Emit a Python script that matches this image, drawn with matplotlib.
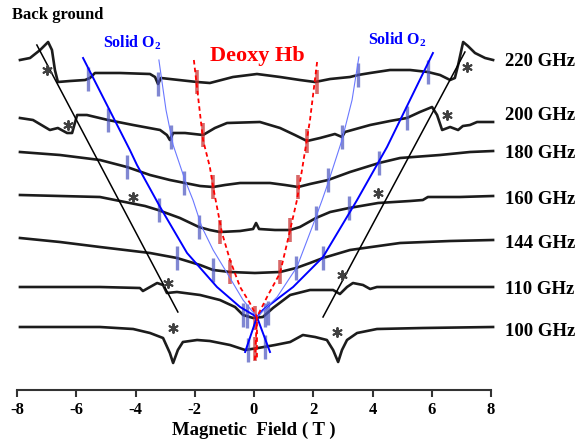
import numpy as np
import matplotlib
matplotlib.use('Agg')
import matplotlib.pyplot as plt

plt.rcParams['font.family'] = ['Liberation Serif', 'DejaVu Serif']
plt.rcParams['font.weight'] = 'bold'
plt.rcParams['mathtext.fontset'] = 'custom'
plt.rcParams['mathtext.rm'] = 'Liberation Serif:bold'
plt.rcParams['mathtext.bf'] = 'Liberation Serif:bold'

# ---------------- data ----------------
freq_labels = ['220 GHz', '200 GHz', '180 GHz', '160 GHz', '144 GHz', '110 GHz', '100 GHz']
offsets = [328, 277, 236, 191, 148, 100, 60]
label_offsets = [328, 275, 237, 190, 147, 100, 58]

field_220 = [-7.90, -7.56, -7.22, -6.95, -6.82, -6.72, -6.62, -6.21, -5.70, -5.54,
             -5.37, -4.52, -3.51, -3.34, -3.24, -3.14, -2.84, -1.92, -1.49, -0.71,
             0.10, 0.88, 1.55, 2.06, 2.57, 3.24, 3.51, 3.92, 4.59, 5.27,
             5.87, 6.28, 6.62, 6.78, 6.89, 7.06, 7.22, 7.46, 7.80, 8.07]
sig_220 = [2, 4, 12, 20, 12, -8, -20, -19, -18, -16,
           -11, -11, -12, -15, -22, -16, -17, -20, -21, -15,
           -12, -15, -18, -20, -17, -15, -13, -11, -8, -8,
           -10, -13, -18, -16, -3, 20, 16, 9, 4, 2]

field_200 = [-7.90, -7.46, -6.89, -6.62, -6.31, -6.14, -5.97, -5.64, -4.93, -4.08,
             -3.17, -2.94, -2.84, -2.73, -2.33, -1.72, -1.32, -0.91, 0.20, 0.88,
             1.38, 1.79, 2.23, 2.73, 2.97, 3.07, 3.92, 4.59, 5.16, 5.60,
             6.01, 6.18, 6.35, 6.62, 6.89, 7.05, 7.29, 7.53, 8.07]
sig_200 = [-5, -7, -17, -15, -20, -20, -2, -2, -7, -12,
           -17, -22, -27, -20, -20, -22, -15, -10, -9, -15,
           -22, -28, -25, -21, -24, -19, -12, -8, -5, 1,
           6, -2, -17, -14, -17, -13, -12, -9, -9]

field_180 = [-7.90, -6.55, -5.20, -4.29, -3.51, -2.84, -2.33, -1.82, -1.38, -0.98, -0.47,
             0.54, 1.05, 1.49, 1.89, 2.50, 3.24, 4.22, 4.93, 6.28, 7.29, 8.07]
sig_180 = [2, -1, -6, -13, -21, -26, -29, -32, -33, -31, -29,
           -29, -31, -33, -30, -26, -18, -9, -4, -1, 2, 3]

field_160 = [-7.90, -6.55, -5.20, -4.19, -3.68, -3.24, -2.50, -1.86, -1.49, -1.15, -0.47, -0.03, 0.07,
             0.17, 0.71, 1.22, 1.55, 2.09, 2.57, 3.21, 4.19, 5.27, 5.70, 5.87, 6.95, 8.07]
sig_160 = [4, 3, 2, -4, -7, -11, -19, -28, -31, -33, -32, -30, -24,
           -30, -31, -31, -28, -19, -13, -9, -4, -2, -1, 2, 2, 3]

field_144 = [-7.90, -6.55, -5.20, -3.51, -2.60, -1.82, -1.38, -0.81, 0.03,
             0.88, 1.42, 1.89, 2.33, 3.24, 4.93, 6.62, 8.07]
sig_144 = [4, 0, -5, -11, -16, -23, -28, -30, -31,
           -30, -26, -21, -16, -8, -1, 1, 2]

field_110 = [-7.90, -5.20, -3.85, -3.75, -3.51, -3.27, -3.07, -2.94, -2.60, -1.82, -1.15, -0.64, -0.37, -0.03,
             0.30, 0.64, 1.22, 1.89, 2.67, 2.90, 3.14, 3.34, 3.68, 3.92, 4.15, 5.94, 8.07]
sig_110 = [3, 3, 2, -1, 3, 7, 5, -3, -2, -5, -10, -17, -25, -28,
           -27, -18, -5, 0, 0, -4, 3, 7, 5, 1, 3, 3, 3]

field_100 = [-7.90, -5.20, -4.08, -3.51, -3.07, -2.84, -2.73, -2.57, -2.40, -1.92, -1.49, -0.81, -0.30, 0.14,
             0.71, 1.22, 1.65, 2.06, 2.46, 2.67, 2.84, 2.97, 3.14, 3.48, 4.15, 5.70, 8.07]
sig_100 = [3, 3, 1, -3, -8, -23, -33, -20, -12, -10, -11, -15, -20, -18,
           -15, -12, -5, -7, -10, -20, -32, -20, -10, -3, 1, 2, 3]

fields = [field_220, field_200, field_180, field_160, field_144, field_110, field_100]
signals = [sig_220, sig_200, sig_180, sig_160, sig_144, sig_110, sig_100]

blue_marks = [[-5.60, -3.24, 3.51, 5.87],
              [-4.93, -2.80, 2.97, 5.16],
              [-4.29, -2.36, 2.50, 4.22],
              [-3.21, -1.86, 2.09, 3.21],
              [-2.60, -1.38, 1.42, 2.33],
              [-0.37, -0.24, 0.37, 0.47],
              [-0.20, 0.37]]
red_marks = [[-1.92, 2.13],
             [-1.72, 1.79],
             [-1.38, 1.49],
             [-1.15, 1.22],
             [-0.81, 0.88],
             [0.03],
             [0.03]]

# guide lines (field, stack position)
bg_left_x, bg_left_y = [-7.33, -2.57], [345, 78]
bg_right_x, bg_right_y = [7.12, 2.33], [338, 73]
o2_left_x = [-5.77, -4.19, -3.95, -3.17, -2.26, -1.25, -0.47, 0.10, 0.54]
o2_left_y = [332, 240, 225, 183, 137, 103, 83, 73, 38]
o2_right_x = [6.04, 4.49, 3.48, 2.33, 1.32, 0.30, 0.10, -0.30]
o2_right_y = [337, 243, 190, 133, 103, 80, 73, 38]
o2b_left_x = [-3.21, -2.97, -2.73, -2.33, -2.06, -1.76, -1.38, -0.91, -0.37, 0.10]
o2b_left_y = [330, 280, 245, 210, 190, 163, 140, 117, 90, 73]
o2b_right_x = [3.54, 3.31, 2.97, 2.50, 2.30, 1.99, 1.45, 0.78, 0.10]
o2b_right_y = [333, 290, 250, 207, 190, 165, 123, 93, 73]
hb_left_x = [-2.03, -1.72, -1.49, -1.38, -1.08, -0.81, -0.47, -0.14, 0.10, 0.10]
hb_left_y = [330, 250, 223, 203, 157, 130, 103, 87, 73, 30]
hb_right_x = [2.13, 1.89, 1.62, 1.45, 1.22, 0.88, 0.44, 0.10, 0.03]
hb_right_y = [328, 270, 220, 190, 160, 117, 93, 73, 30]

star_x = [-6.99, 7.19, -6.28, 6.51, -4.08, 4.19, -2.90, 2.97, -2.73, 2.80]
star_y = [320, 323, 265, 275, 193, 197, 107, 115, 62, 58]

xticks = [-8, -6, -4, -2, 0, 2, 4, 6, 8]

# ---------------- figure ----------------
fig = plt.figure(figsize=(5.84, 4.42), dpi=100)
ax = fig.add_axes([17 / 584, 52 / 442, 474 / 584, 390 / 442])
ax.set_xlim(-8, 8)
ax.set_ylim(0, 390)

for f, s, off in zip(fields, signals, offsets):
    ax.plot(f, np.array(s) + off, color='#1c1c1c', lw=1.9, solid_joinstyle='round',
            clip_on=False, zorder=2)

for f, s, off, bm, rm in zip(fields, signals, offsets, blue_marks, red_marks):
    yb = np.interp(bm, f, s) + off
    ax.vlines(bm, yb - 12, yb + 12, color='#4a55c0', alpha=0.7, lw=2.4, zorder=3)
    yr = np.interp(rm, f, s) + off
    ax.vlines(rm, yr - 12, yr + 12, color='#c82828', alpha=0.7, lw=2.6, zorder=3)

ax.plot(bg_left_x, bg_left_y, color='black', lw=1.1, zorder=4)
ax.plot(bg_right_x, bg_right_y, color='black', lw=1.1, zorder=4)
ax.plot(o2_left_x, o2_left_y, color='#0000ff', lw=1.4, zorder=4, solid_joinstyle='round')
ax.plot(o2_right_x, o2_right_y, color='#0000ff', lw=1.4, zorder=4, solid_joinstyle='round')
ax.plot(o2b_left_x, o2b_left_y, color='#6a78ff', lw=0.8, zorder=4)
ax.plot(o2b_right_x, o2b_right_y, color='#6a78ff', lw=0.8, zorder=4)
ax.plot(hb_left_x, hb_left_y, color='#ff0000', lw=1.3, ls=(0, (2.5, 1.8)), zorder=4)
ax.plot(hb_right_x, hb_right_y, color='#ff0000', lw=1.3, ls=(0, (2.5, 1.8)), zorder=4)

ax.scatter(star_x, star_y, marker=(6, 2, 0), s=42, color='#404040', lw=1.4, zorder=4)

for lab, y in zip(freq_labels, label_offsets):
    ax.text(8.47, y, lab, fontsize=13.5, fontweight='bold', ha='left', va='center', color='black')

ax.text(-8.17, 375, 'Back ground', fontsize=12, fontweight='bold', ha='left', va='center')
ax.text(-4.12, 347, r'Solid O$_{\mathbf{2}}$', fontsize=11.5, fontweight='bold', color='#0000ff',
        ha='center', va='center')
ax.text(4.83, 350, r'Solid O$_{\mathbf{2}}$', fontsize=11.5, fontweight='bold', color='#0000ff',
        ha='center', va='center')
ax.text(0.10, 334, 'Deoxy Hb', fontsize=16, fontweight='bold', color='#ff0000',
        ha='center', va='center')

for sp in ['left', 'right', 'top']:
    ax.spines[sp].set_visible(False)
ax.spines['bottom'].set_color('#333333')
ax.spines['bottom'].set_linewidth(1.5)
ax.set_yticks([])
ax.set_xticks(xticks)
ax.set_xticklabels([str(t) for t in xticks])
ax.tick_params(axis='x', direction='out', length=5, width=1.5, color='#333333',
               labelsize=12, pad=4)
for lb in ax.get_xticklabels():
    lb.set_fontweight('bold')

xl = ax.set_xlabel('Magnetic  Field ( T )', fontsize=13.5, fontweight='bold')
xl.set_verticalalignment('center')
ax.xaxis.set_label_coords(0.5, -(430 - 390) / 390)

fig.savefig('out.png', dpi=100)
